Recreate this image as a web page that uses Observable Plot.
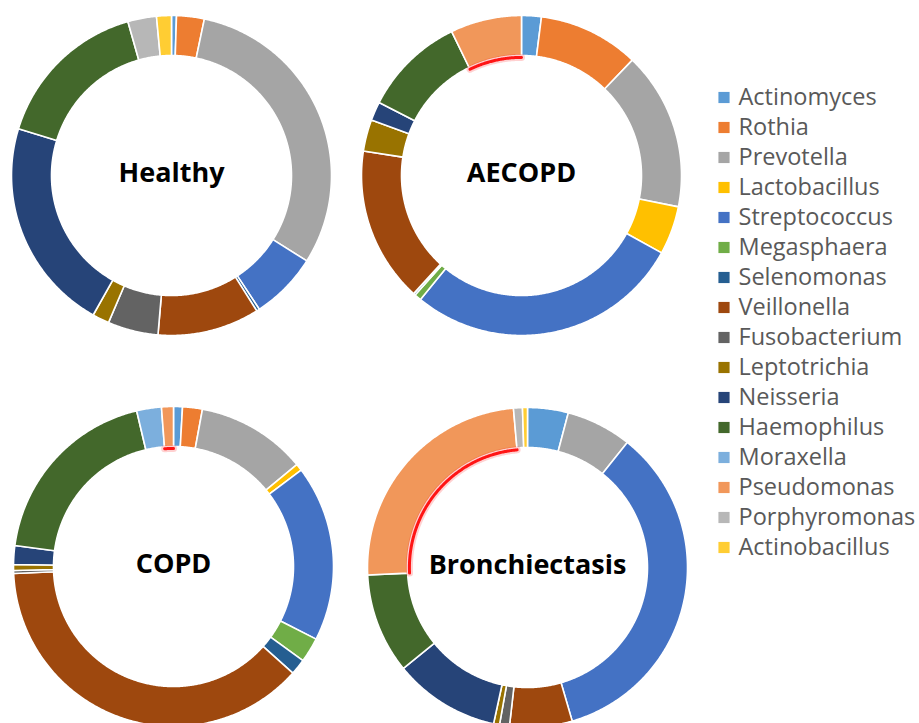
<!DOCTYPE html>
<html><head><meta charset="utf-8">
<script src="https://cdn.jsdelivr.net/npm/d3@7"></script>
<script src="https://cdn.jsdelivr.net/npm/@observablehq/plot@0.6"></script>
<style>
html,body{margin:0;padding:0;background:#fff;}
#wrap{position:relative;width:919px;height:723px;overflow:hidden;background:#fff;font-family:"Open Sans",sans-serif;}
#wrap > div, #wrap > svg{position:absolute;}
</style></head><body><div id="wrap"></div>
<script>
// ---- data ----
const species = ["Actinomyces","Rothia","Prevotella","Lactobacillus","Streptococcus","Megasphaera","Selenomonas","Veillonella","Fusobacterium","Leptotrichia","Neisseria","Haemophilus","Moraxella","Pseudomonas","Porphyromonas","Actinobacillus"];
const colors = ["#5B9BD5","#ED7D31","#A5A5A5","#FFC000","#4472C4","#70AD47","#255E91","#9E480E","#636363","#997300","#264478","#43682B","#7CAFDD","#F1975A","#B7B7B7","#FFCD33"];
const groups = ["Healthy","AECOPD","COPD","Bronchiectasis"];
// relative abundance (%) per group, in species order
const healthy        = [0.5, 2.8, 30.7, 0,   6.8, 0,   0.3, 10.3, 5.1, 1.7, 21.6, 15.9, 0,   0,    2.9, 1.5];
const aecopd         = [2.0, 10.2, 16.0, 4.9, 27.9, 0.7, 0.2, 15.7, 0,   3.2, 1.9,  10.3, 0,   7.2,  0,   0];
const copd           = [0.9, 2.0, 11.1, 0.7, 17.8, 2.5, 1.6, 37.7, 0.3, 0.6, 1.9,  19.2, 2.5, 1.2,  0,   0];
const bronchiectasis = [4.1, 0,   6.6,  0,   34.7, 0,   0,   6.3,  1.0, 0.6, 10.7, 10.1, 0,   24.3, 0.9, 0.5];
const groupValues = [healthy, aecopd, copd, bronchiectasis];
const highlighted = "Pseudomonas";

// ---- layout ----
const SIZE = 340, RADIUS_PX = 160;
const H = SIZE / 2 / RADIUS_PX;
const OUTER = 1, INNER = 0.75;
const placements = [[1, 5], [351, 5], [3, 396], [357, 397]];

function ringPoints(values) {
  const rows = species.map((s, i) => ({species: s, value: values[i]})).filter(d => d.value > 0);
  const arcs = d3.pie().sort(null).sortValues(null).value(d => d.value)(rows);
  const pts = [], hl = [];
  for (const a of arcs) {
    const n = Math.max(2, Math.ceil((a.endAngle - a.startAngle) / 0.008));
    const ang = d3.range(n + 1).map(k => a.startAngle + (a.endAngle - a.startAngle) * k / n);
    for (const t of ang) pts.push({species: a.data.species, x: OUTER * Math.sin(t), y: OUTER * Math.cos(t)});
    for (const t of ang.slice().reverse()) pts.push({species: a.data.species, x: INNER * Math.sin(t), y: INNER * Math.cos(t)});
    if (a.data.species === highlighted) {
      for (const t of ang) hl.push({x: (INNER - 0.012) * Math.sin(t), y: (INNER - 0.012) * Math.cos(t)});
    }
  }
  return {pts, hl};
}

const wrap = document.getElementById("wrap");
groups.forEach((g, i) => {
  const {pts, hl} = ringPoints(groupValues[i]);
  const chart = Plot.plot({
    width: SIZE, height: SIZE, margin: 0,
    x: {domain: [-H, H], axis: null},
    y: {domain: [-H, H], axis: null},
    color: {domain: species, range: colors},
    marks: [
      Plot.line(pts, {x: "x", y: "y", z: "species", fill: "species", stroke: "white", strokeWidth: 1.6, curve: "linear-closed"}),
      Plot.line(hl, {x: "x", y: "y", stroke: "#ff0000", strokeWidth: 7, strokeOpacity: 0.18}),
      Plot.line(hl, {x: "x", y: "y", stroke: "#ff0000", strokeWidth: 3, strokeOpacity: 0.9}),
      Plot.text([g], {text: d => d, frameAnchor: "middle", dy: -2, fontSize: 27, fontWeight: 700, fill: "black", fontFamily: "Open Sans"})
    ]
  });
  chart.style.left = placements[i][0] + "px";
  chart.style.top = placements[i][1] + "px";
  wrap.appendChild(chart);
});

const legend = Plot.plot({
  width: 219, height: 723, margin: 0,
  y: {type: "point", domain: species, range: [92, 551], padding: 0, axis: null},
  color: {domain: species, range: colors},
  marks: [
    Plot.dot(species, {y: d => d, fill: d => d, symbol: "square", r: 6.3, frameAnchor: "left", dx: 23.5, stroke: null}),
    Plot.text(species, {y: d => d, text: d => d, frameAnchor: "left", dx: 38, textAnchor: "start", fontSize: 23.5, fill: "#595959", fontFamily: "Open Sans"})
  ]
});
legend.style.left = "700px";
legend.style.top = "0px";
wrap.appendChild(legend);
</script>
</body></html>
